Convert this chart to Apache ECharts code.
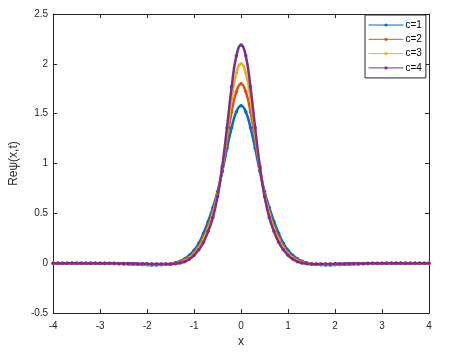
<!DOCTYPE html>
<html>
<head>
<meta charset="utf-8">
<script src="https://cdn.jsdelivr.net/npm/echarts@6/dist/echarts.min.js"></script>
<style>html,body{margin:0;padding:0;background:#fff}#c{width:452px;height:353px}</style>
</head>
<body>
<div id="c"></div>
<script>
var xs = [-4,-3.9,-3.8,-3.7,-3.6,-3.5,-3.4,-3.3,-3.2,-3.1,-3,-2.9,-2.8,-2.7,-2.6,-2.5,-2.4,-2.3,-2.2,-2.1,-2,-1.9,-1.8,-1.7,-1.6,-1.5,-1.4,-1.3,-1.2,-1.1,-1,-0.9,-0.8,-0.7,-0.6,-0.5,-0.4,-0.3,-0.2,-0.1,0,0.1,0.2,0.3,0.4,0.5,0.6,0.7,0.8,0.9,1,1.1,1.2,1.3,1.4,1.5,1.6,1.7,1.8,1.9,2,2.1,2.2,2.3,2.4,2.5,2.6,2.7,2.8,2.9,3,3.1,3.2,3.3,3.4,3.5,3.6,3.7,3.8,3.9,4];
var c1 = [0,0,0,0,0,0,0,0,-0.001,-0.001,-0.002,-0.002,-0.003,-0.004,-0.005,-0.007,-0.008,-0.010,-0.012,-0.014,-0.016,-0.017,-0.017,-0.016,-0.013,-0.007,0.004,0.02,0.045,0.08,0.13,0.20,0.30,0.42,0.56,0.72,0.92,1.15,1.36,1.52,
          1.58,
          1.52,1.36,1.15,0.92,0.72,0.56,0.42,0.30,0.20,0.13,0.08,0.045,0.02,0.004,-0.007,-0.013,-0.016,-0.017,-0.017,-0.016,-0.014,-0.012,-0.010,-0.008,-0.007,-0.005,-0.004,-0.003,-0.002,-0.002,-0.001,-0.001,0,0,0,0,0,0,0,0];
var c2 = [0,0,0,0,0,0,0,0,0,-0.001,-0.001,-0.002,-0.002,-0.003,-0.004,-0.005,-0.006,-0.007,-0.009,-0.010,-0.012,-0.013,-0.013,-0.013,-0.011,-0.007,0,0.012,0.031,0.062,0.105,0.17,0.26,0.37,0.52,0.70,0.95,1.24,1.52,1.72,
          1.80,
          1.72,1.52,1.24,0.95,0.70,0.52,0.37,0.26,0.17,0.105,0.062,0.031,0.012,0,-0.007,-0.011,-0.013,-0.013,-0.013,-0.012,-0.010,-0.009,-0.007,-0.006,-0.005,-0.004,-0.003,-0.002,-0.002,-0.001,-0.001,0,0,0,0,0,0,0,0,0];
var c3 = [0,0,0,0,0,0,0,0,0,0,0,-0.001,-0.001,-0.002,-0.003,-0.003,-0.004,-0.005,-0.006,-0.008,-0.009,-0.010,-0.011,-0.011,-0.010,-0.007,-0.002,0.007,0.023,0.052,0.092,0.15,0.235,0.345,0.49,0.685,0.96,1.30,1.65,1.91,
          2.00,
          1.91,1.65,1.30,0.96,0.685,0.49,0.345,0.235,0.15,0.092,0.052,0.023,0.007,-0.002,-0.007,-0.010,-0.011,-0.011,-0.010,-0.009,-0.008,-0.006,-0.005,-0.004,-0.003,-0.003,-0.002,-0.001,-0.001,0,0,0,0,0,0,0,0,0,0,0];
var c4 = [0,0,0,0,0,0,0,0,0,0,0,-0.001,-0.001,-0.001,-0.002,-0.002,-0.003,-0.003,-0.004,-0.005,-0.006,-0.007,-0.008,-0.008,-0.008,-0.007,-0.004,0.003,0.016,0.042,0.08,0.135,0.21,0.32,0.46,0.67,0.97,1.36,1.77,2.08,
          2.19,
          2.08,1.77,1.36,0.97,0.67,0.46,0.32,0.21,0.135,0.08,0.042,0.016,0.003,-0.004,-0.007,-0.008,-0.008,-0.008,-0.007,-0.006,-0.005,-0.004,-0.003,-0.003,-0.002,-0.002,-0.001,-0.001,-0.001,0,0,0,0,0,0,0,0,0,0,0];
var seriesNames = ['c=1','c=2','c=3','c=4'];
var seriesColors = ['#0072BD','#D95319','#EDB120','#7E2F8E'];
var seriesValues = [c1, c2, c3, c4];

var chart = echarts.init(document.getElementById('c'), null, {renderer:'canvas'});
var axisCol = '#262626';
var font = 'Liberation Sans, Arial, sans-serif';
function pairs(v){ return xs.map(function(x,i){ return [x, v[i]]; }); }
var series = seriesValues.map(function(v,i){
  return {
    name: seriesNames[i], type:'line', data: pairs(v), smooth: 0.5,
    showSymbol: true, symbol:'circle', symbolSize: 3.5,
    lineStyle:{color:seriesColors[i], width:2.5},
    itemStyle:{color:seriesColors[i]},
    animation:false, z: 2+i
  };
});
chart.setOption({
  animation:false,
  grid:{left:49, right:23, top:14, bottom:39, containLabel:false},
  legend:{
    left:365, top:15, orient:'vertical',
    data: seriesNames,
    itemWidth:35, itemHeight:4, itemGap:2.3,
    padding:[4,4,4,3],
    lineStyle:{width:1},
    backgroundColor:'#fff', borderColor:axisCol, borderWidth:1,
    textStyle:{fontSize:10, color:'#000', fontFamily:font, lineHeight:12, padding:[0,0,0,-3]}
  },
  xAxis:[
    {type:'value', min:-4, max:4, interval:1, position:'bottom',
     name:'x', nameLocation:'middle', nameGap:22,
     nameTextStyle:{fontSize:12, color:axisCol, fontFamily:font},
     axisLine:{show:true, onZero:false, lineStyle:{color:axisCol, width:1}},
     axisTick:{show:true, inside:true, length:4, lineStyle:{color:axisCol}},
     axisLabel:{fontSize:10, color:axisCol, fontFamily:font, margin:8},
     splitLine:{show:false}},
    {type:'value', min:-4, max:4, interval:1, position:'top',
     axisLine:{show:true, onZero:false, lineStyle:{color:axisCol, width:1}},
     axisTick:{show:true, inside:true, length:4, lineStyle:{color:axisCol}},
     axisLabel:{show:false}, splitLine:{show:false}}
  ],
  yAxis:[
    {type:'value', min:-0.5, max:2.5, interval:0.5, position:'left',
     name:'Reψ(x,t)', nameLocation:'middle', nameGap:27, nameRotate:90,
     nameTextStyle:{fontSize:12, color:axisCol, fontFamily:font},
     axisLine:{show:true, onZero:false, lineStyle:{color:axisCol, width:1}},
     axisTick:{show:true, inside:true, length:4, lineStyle:{color:axisCol}},
     axisLabel:{fontSize:10, color:axisCol, fontFamily:font, margin:5},
     splitLine:{show:false}},
    {type:'value', min:-0.5, max:2.5, interval:0.5, position:'right',
     axisLine:{show:true, onZero:false, lineStyle:{color:axisCol, width:1}},
     axisTick:{show:true, inside:true, length:4, lineStyle:{color:axisCol}},
     axisLabel:{show:false}, splitLine:{show:false}}
  ],
  series: series
});
</script>
</body>
</html>
